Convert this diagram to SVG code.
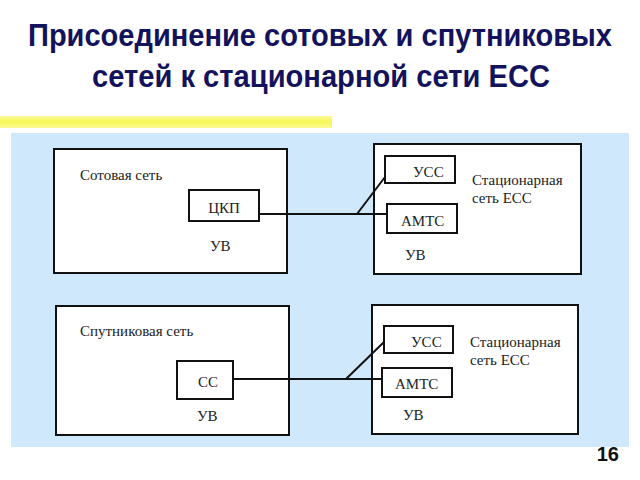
<svg xmlns="http://www.w3.org/2000/svg" width="640" height="480" viewBox="0 0 640 480">
<defs>
<linearGradient id="yb" x1="0" y1="0" x2="0" y2="1">
<stop offset="0" stop-color="#fbfb9a"/>
<stop offset="0.5" stop-color="#f6f655"/>
<stop offset="1" stop-color="#fbfb9a"/>
</linearGradient>
</defs>
<style>
.title{font-family:'Liberation Sans',Arial,sans-serif;font-weight:bold;font-size:28px;fill:#13125c}
.box{fill:#ffffff;stroke:#111111;stroke-width:2}
.t{font-family:'Liberation Serif','Times New Roman',serif;font-size:15px;fill:#222222}
.c{fill:none;stroke:#111111;stroke-width:2}
</style>
<rect width="640" height="480" fill="#ffffff"/>
<g transform="translate(320,46) scale(1,1.1)">
<text class="title" x="0" y="0" text-anchor="middle" textLength="584" lengthAdjust="spacingAndGlyphs">Присоединение сотовых и спутниковых</text>
</g>
<g transform="translate(321,87) scale(1,1.1)">
<text class="title" x="0" y="0" text-anchor="middle" textLength="458" lengthAdjust="spacingAndGlyphs">сетей к стационарной сети ЕСС</text>
</g>
<rect x="0" y="116" width="332" height="12" fill="url(#yb)"/>
<rect x="11" y="133" width="618" height="314" fill="#cfe8fb"/>

<g id="cell-net">
<rect class="box" x="54" y="149" width="233" height="124"/>
<text class="t" x="80" y="180">Сотовая сеть</text>
<text class="t" x="210" y="251">УВ</text>
</g>
<g id="ckp">
<rect class="box" x="189" y="190" width="70" height="31"/>
<text class="t" x="224" y="213" text-anchor="middle">ЦКП</text>
</g>
<g id="fixed-net-1">
<rect class="box" x="374" y="144" width="207" height="130"/>
<text class="t" x="472" y="185">Стационарная</text>
<text class="t" x="472" y="203">сеть ЕСС</text>
<text class="t" x="405" y="260">УВ</text>
</g>
<g id="ucc-1">
<rect class="box" x="385" y="156" width="70" height="27"/>
<text class="t" x="413" y="177">УСС</text>
</g>
<g id="amts-1">
<rect class="box" x="387" y="204" width="70" height="29"/>
<text class="t" x="401" y="226">АМТС</text>
</g>

<g id="sat-net">
<rect class="box" x="56" y="306" width="233" height="129"/>
<text class="t" x="80" y="336">Спутниковая сеть</text>
<text class="t" x="197" y="421">УВ</text>
</g>
<g id="cc">
<rect class="box" x="177" y="361" width="56" height="38"/>
<text class="t" x="198" y="387">СС</text>
</g>
<g id="fixed-net-2">
<rect class="box" x="372" y="305" width="206" height="129"/>
<text class="t" x="470" y="347">Стационарная</text>
<text class="t" x="470" y="365">сеть ЕСС</text>
<text class="t" x="403" y="420">УВ</text>
</g>
<g id="ucc-2">
<rect class="box" x="384" y="326" width="69" height="27"/>
<text class="t" x="411" y="347">УСС</text>
</g>
<g id="amts-2">
<rect class="box" x="382" y="368" width="70" height="29"/>
<text class="t" x="395" y="389">АМТС</text>
</g>

<g id="connectors">
<polyline class="c" points="259,214 387,214"/>
<polyline class="c" points="357,214 385,177"/>
<polyline class="c" points="233,379 382,379"/>
<polyline class="c" points="346,379 384,342"/>
</g>

<text x="619" y="461" text-anchor="end" font-family="'Liberation Sans',Arial,sans-serif" font-weight="bold" font-size="20" fill="#111111">16</text>
</svg>
